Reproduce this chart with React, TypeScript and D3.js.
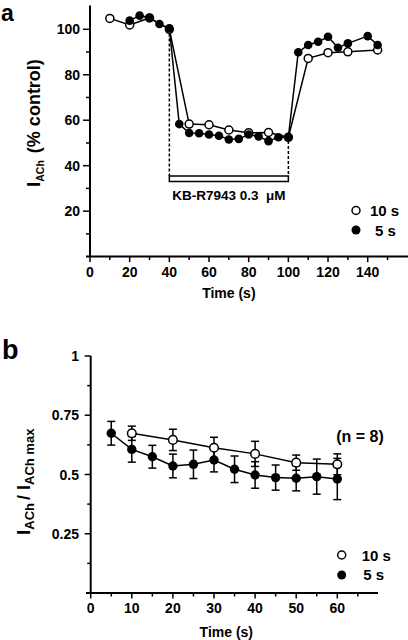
import React from "react";
import * as d3 from "d3";

// ---------- Panel a data ----------
const aOpenX = [10, 20, 30, 40, 50, 60, 70, 80, 90, 100, 110, 120, 130, 145];
const aOpenY = [104.8, 101.9, 105, 100, 58.3, 58, 55.7, 54.5, 54.6, 52.5, 87.2, 89.7, 90.1, 90.9];
const aFilledX = [20, 25, 30, 35, 40, 45, 50, 55, 60, 65, 70, 75, 80, 85, 90, 95, 100, 105, 110, 115, 120, 125, 130, 140, 145];
const aFilledY = [103.8, 106, 105.1, 102.3, 100.4, 58.3, 54.4, 54.3, 53.7, 53.2, 51.5, 51.8, 53.7, 52.9, 50.8, 52.5, 52.6, 89.9, 93.1, 94.5, 96.7, 91.9, 93.8, 97, 93.1];
const aXTicks = [0, 10, 20, 30, 40, 50, 60, 70, 80, 90, 100, 110, 120, 130, 140, 150];
const aXLabels = [0, 20, 40, 60, 80, 100, 120, 140];
const aYTicks = [10, 20, 30, 40, 50, 60, 70, 80, 90, 100];
const aYLabels = [20, 40, 60, 80, 100];
const drugStart = 40;
const drugEnd = 100;
const drugLabel = "KB-R7943 0.3  μM";

// ---------- Panel b data ----------
const bFilledX = [5, 10, 15, 20, 25, 30, 35, 40, 45, 50, 55, 60];
const bFilledY = [0.674, 0.606, 0.575, 0.536, 0.543, 0.561, 0.522, 0.498, 0.487, 0.484, 0.491, 0.481];
const bFilledErr = [0.05, 0.054, 0.048, 0.05, 0.06, 0.05, 0.056, 0.056, 0.053, 0.053, 0.074, 0.087];
const bOpenX = [10, 20, 30, 40, 50, 60];
const bOpenY = [0.674, 0.646, 0.613, 0.587, 0.55, 0.543];
const bOpenErr = [0.03, 0.045, 0.044, 0.053, 0.032, 0.044];
const bXTicks = [0, 5, 10, 15, 20, 25, 30, 35, 40, 45, 50, 55, 60, 65];
const bXLabels = [0, 10, 20, 30, 40, 50, 60];
const bYTicks = [0.125, 0.25, 0.375, 0.5, 0.625, 0.75, 0.875, 1];
const bYLabels = [0.25, 0.5, 0.75, 1];

const legendLabels = ["10 s", "5 s"];

const FONT = "'Liberation Sans', Arial, Helvetica, sans-serif";

export default function App() {
  // scales
  const xA = d3.scaleLinear().domain([0, 140]).range([90, 367.7]);
  const yA = d3.scaleLinear().domain([0, 100]).range([256.6, 29.3]);
  const xB = d3.scaleLinear().domain([0, 60]).range([90.7, 337.3]);
  const yB = d3.scaleLinear().domain([0, 1]).range([593, 356]);

  const lineA = d3.line<[number, number]>().x((d) => xA(d[0])).y((d) => yA(d[1]));
  const lineB = d3.line<[number, number]>().x((d) => xB(d[0])).y((d) => yB(d[1]));

  const aOpen = aOpenX.map((x, i) => [x, aOpenY[i]] as [number, number]);
  const aFilled = aFilledX.map((x, i) => [x, aFilledY[i]] as [number, number]);
  const bOpen = bOpenX.map((x, i) => [x, bOpenY[i]] as [number, number]);
  const bFilled = bFilledX.map((x, i) => [x, bFilledY[i]] as [number, number]);

  const barTop = 176;
  const barH = 5.5;
  const startY = aFilledY[aFilledX.indexOf(drugStart)];
  const endY = aFilledY[aFilledX.indexOf(drugEnd)];

  const errBar = (x: number, y: number, e: number, key: string) => (
    <g key={key} stroke="#000" strokeWidth={1.5}>
      <line x1={xB(x)} x2={xB(x)} y1={yB(y + e)} y2={yB(y - e)} />
      <line x1={xB(x) - 4} x2={xB(x) + 4} y1={yB(y + e)} y2={yB(y + e)} />
      <line x1={xB(x) - 4} x2={xB(x) + 4} y1={yB(y - e)} y2={yB(y - e)} />
    </g>
  );

  return (
    <svg
      width={408}
      height={640}
      style={{ position: "absolute", left: 0, top: 0, background: "#fff" }}
      fontFamily={FONT}
      fontWeight="bold"
    >
      <rect x={0} y={0} width={408} height={640} fill="#fff" />

      {/* ================= Panel a ================= */}
      <text x={1} y={21} fontSize={23}>a</text>

      {/* axes */}
      <line x1={86} x2={408} y1={yA(0)} y2={yA(0)} stroke="#000" strokeWidth={2} />
      <line x1={xA(0)} x2={xA(0)} y1={yA(0)} y2={yA(110.5)} stroke="#000" strokeWidth={2} />
      {aXTicks.map((t) => (
        <line key={"axt" + t} x1={xA(t)} x2={xA(t)} y1={yA(0)} y2={yA(0) + (t % 20 === 0 ? 5.5 : 3.5)} stroke="#000" strokeWidth={1.5} />
      ))}
      {aXLabels.map((t) => (
        <text key={"axl" + t} x={xA(t)} y={277} fontSize={14} textAnchor="middle">{t}</text>
      ))}
      {aYTicks.map((t) => (
        <line key={"ayt" + t} x1={xA(0) - (t % 20 === 0 ? 7 : 4)} x2={xA(0)} y1={yA(t)} y2={yA(t)} stroke="#000" strokeWidth={1.5} />
      ))}
      {aYLabels.map((t) => (
        <text key={"ayl" + t} x={80} y={yA(t) + 5} fontSize={14} textAnchor="end">{t}</text>
      ))}
      <text x={xA(70)} y={298} fontSize={14} textAnchor="middle">Time (s)</text>
      <text transform="translate(40,187) rotate(-90)" fontSize={18}>
        <tspan fontSize={19}>I</tspan>
        <tspan fontSize={10.5} dy={3.5}>ACh</tspan>
        <tspan dy={-3.5} dx={7}>(% control)</tspan>
      </text>

      {/* drug application */}
      <line x1={xA(drugStart)} x2={xA(drugStart)} y1={yA(startY)} y2={barTop} stroke="#000" strokeWidth={1.5} strokeDasharray="3,2" />
      <line x1={xA(drugEnd)} x2={xA(drugEnd)} y1={yA(endY) + 4} y2={barTop} stroke="#000" strokeWidth={1.5} strokeDasharray="3,2" />
      <rect x={xA(drugStart)} y={barTop} width={xA(drugEnd) - xA(drugStart)} height={barH} fill="#fff" stroke="#000" strokeWidth={1.5} />
      <text x={xA((drugStart + drugEnd) / 2)} y={200} fontSize={13.5} textAnchor="middle" style={{ whiteSpace: "pre" }}>{drugLabel}</text>

      {/* series lines */}
      <path d={lineA(aOpen) || ""} fill="none" stroke="#000" strokeWidth={1.5} />
      <path d={lineA(aFilled) || ""} fill="none" stroke="#000" strokeWidth={1.5} />
      {aOpen.map((d, i) => (
        <circle key={"ao" + i} cx={xA(d[0])} cy={yA(d[1])} r={4} fill="#fff" stroke="#000" strokeWidth={1.5} />
      ))}
      {aFilled.map((d, i) => (
        <circle key={"af" + i} cx={xA(d[0])} cy={yA(d[1])} r={4.3} fill="#000" />
      ))}

      {/* legend a */}
      <circle cx={356} cy={210.5} r={4} fill="#fff" stroke="#000" strokeWidth={1.5} />
      <text x={370} y={216} fontSize={15}>{legendLabels[0]}</text>
      <circle cx={356} cy={230} r={4.5} fill="#000" />
      <text x={375} y={235.5} fontSize={15}>{legendLabels[1]}</text>

      {/* ================= Panel b ================= */}
      <text x={2} y={359} fontSize={27}>b</text>

      <line x1={86} x2={378} y1={yB(0)} y2={yB(0)} stroke="#000" strokeWidth={2} />
      <line x1={xB(0)} x2={xB(0)} y1={yB(0)} y2={yB(1)} stroke="#000" strokeWidth={2} />
      {bXTicks.map((t) => (
        <line key={"bxt" + t} x1={xB(t)} x2={xB(t)} y1={yB(0)} y2={yB(0) + (t % 10 === 0 ? 5.5 : 3.5)} stroke="#000" strokeWidth={1.5} />
      ))}
      {bXLabels.map((t) => (
        <text key={"bxl" + t} x={xB(t)} y={613} fontSize={14} textAnchor="middle">{t}</text>
      ))}
      {bYTicks.map((t) => (
        <line key={"byt" + t} x1={xB(0) - (Math.abs((t * 4) % 1) < 1e-6 ? 6 : 3.5)} x2={xB(0)} y1={yB(t)} y2={yB(t)} stroke="#000" strokeWidth={1.5} />
      ))}
      {bYLabels.map((t) => (
        <text key={"byl" + t} x={79} y={yB(t) + 5} fontSize={14} textAnchor="end">{String(t)}</text>
      ))}
      <text x={xB(33)} y={637} fontSize={14} textAnchor="middle">Time (s)</text>
      <text transform="translate(30,535) rotate(-90)" fontSize={18}>
        <tspan fontSize={19}>I</tspan>
        <tspan fontSize={13} dy={3.5}>ACh</tspan>
        <tspan dy={-3.5} dx={3}>/</tspan>
        <tspan dx={5}>I</tspan>
        <tspan fontSize={13} dy={3.5}>ACh max</tspan>
      </text>
      <text x={360} y={442} fontSize={16} textAnchor="middle">(n = 8)</text>

      {/* error bars */}
      {bFilled.map((d, i) => errBar(d[0], d[1], bFilledErr[i], "bfe" + i))}
      {bOpen.map((d, i) => errBar(d[0], d[1], bOpenErr[i], "boe" + i))}

      <path d={lineB(bOpen) || ""} fill="none" stroke="#000" strokeWidth={1.5} />
      <path d={lineB(bFilled) || ""} fill="none" stroke="#000" strokeWidth={1.5} />
      {bOpen.map((d, i) => (
        <circle key={"bo" + i} cx={xB(d[0])} cy={yB(d[1])} r={4.3} fill="#fff" stroke="#000" strokeWidth={1.5} />
      ))}
      {bFilled.map((d, i) => (
        <circle key={"bf" + i} cx={xB(d[0])} cy={yB(d[1])} r={4.7} fill="#000" />
      ))}

      {/* legend b */}
      <circle cx={341.7} cy={555} r={4} fill="#fff" stroke="#000" strokeWidth={1.5} />
      <text x={361.7} y={560.5} fontSize={15}>{legendLabels[0]}</text>
      <circle cx={341.7} cy={575} r={4.5} fill="#000" />
      <text x={363.3} y={580} fontSize={15}>{legendLabels[1]}</text>
    </svg>
  );
}
